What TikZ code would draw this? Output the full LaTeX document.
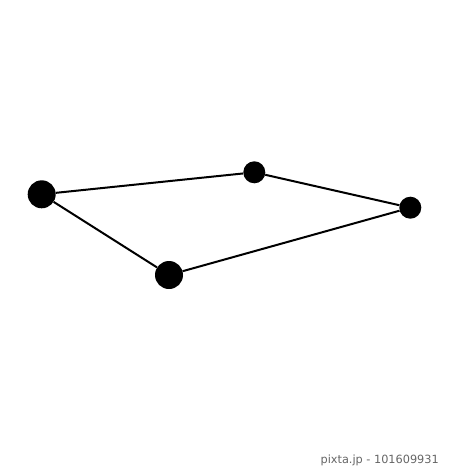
\documentclass[tikz,border=0pt]{standalone}
\usepackage{fontspec}
\setmainfont{DejaVu Sans}
\begin{document}
\begin{tikzpicture}[x=1pt,y=-1pt,
  star/.style={circle,fill=black,inner sep=0pt,minimum size=#1},
  edge/.style={line width=2pt,black}]
\useasboundingbox[fill=white] (0,0) rectangle (450,469);
\node[star=28pt] (a) at (41.7,194.3) {};
\node[star=22pt] (b) at (254.3,172.3) {};
\node[star=22pt] (c) at (410.3,207.7) {};
\node[star=28pt] (d) at (169,275) {};
\draw[edge] (a) -- (b) -- (c) -- (d) -- (a);
\node[text=black!60,font=\fontsize{11.3pt}{13pt}\selectfont,anchor=base east,inner sep=0pt] (wm) at (439,463) {pixta.jp - 101609931};
\end{tikzpicture}
\end{document}
